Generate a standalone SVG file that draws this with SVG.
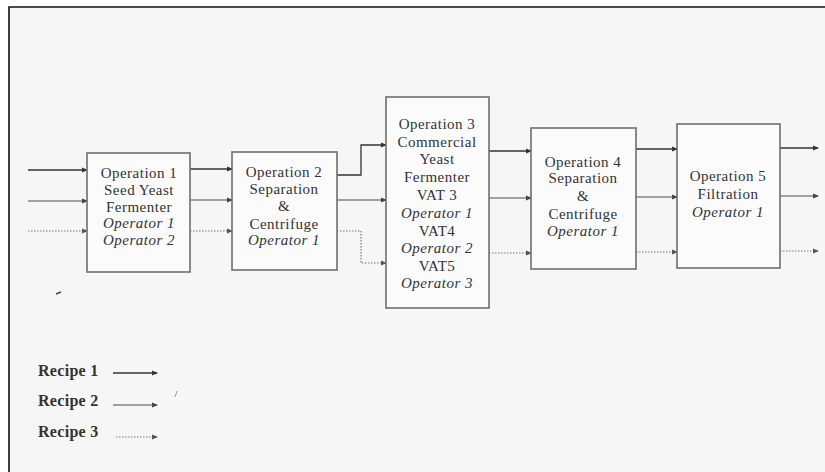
<svg xmlns="http://www.w3.org/2000/svg" width="825" height="472" viewBox="0 0 825 472">
<style>
.box{fill:#fbfbfb;stroke:#6e6e6e;stroke-width:1.6}
.t{font-family:"Liberation Serif","Times New Roman",serif;font-size:15px;fill:#333;text-anchor:middle;letter-spacing:0.5px}
.i{font-style:italic}
.r1{fill:none;stroke:#333;stroke-width:1.3;marker-end:url(#a1)}
.r2{fill:none;stroke:#4a4a4a;stroke-width:1;marker-end:url(#a2)}
.r3{fill:none;stroke:#777;stroke-width:1.2;stroke-dasharray:1.5 1.5;marker-end:url(#a3)}
.lg{font-family:"Liberation Serif","Times New Roman",serif;font-size:16px;font-weight:bold;fill:#333;letter-spacing:0.3px}
</style>
<defs>
<marker id="a1" markerWidth="6" markerHeight="6" refX="5" refY="3" orient="auto" markerUnits="userSpaceOnUse"><path d="M0,0.5 L6,3 L0,5.5 Z" fill="#333"/></marker>
<marker id="a2" markerWidth="6" markerHeight="6" refX="5" refY="3" orient="auto" markerUnits="userSpaceOnUse"><path d="M0,0.5 L6,3 L0,5.5 Z" fill="#444"/></marker>
<marker id="a3" markerWidth="6" markerHeight="6" refX="5" refY="3" orient="auto" markerUnits="userSpaceOnUse"><path d="M0,0.5 L6,3 L0,5.5 Z" fill="#555"/></marker>
</defs>
<rect x="0" y="0" width="825" height="472" fill="#ffffff"/>
<rect x="9" y="7" width="816" height="465" fill="#f6f6f6"/>
<path d="M9,472 L9,7 L825,7" fill="none" stroke="#111" stroke-width="1.6"/>

<g id="connectors">
<path class="r1" d="M28,170 L87,170"/>
<path class="r2" d="M28,201 L87,201"/>
<path class="r3" d="M28,231 L87,231"/>
<path class="r1" d="M190,169 L232,169"/>
<path class="r2" d="M190,200 L232,200"/>
<path class="r3" d="M190,231 L232,231"/>
<path class="r1" d="M337,175 L361,175 L361,145 L386,145"/>
<path class="r2" d="M337,200 L386,200"/>
<path class="r3" d="M337,231 L361,231 L361,263 L386,263"/>
<path class="r1" d="M489,151 L531,151"/>
<path class="r2" d="M489,198 L531,198"/>
<path class="r3" d="M489,253 L531,253"/>
<path class="r1" d="M636,149 L677,149"/>
<path class="r2" d="M636,197 L677,197"/>
<path class="r3" d="M636,252 L677,252"/>
<path class="r1" d="M780,148 L818,148"/>
<path class="r2" d="M780,196 L818,196"/>
<path class="r3" d="M780,251 L818,251"/>
</g>

<g id="op1">
<rect class="box" x="87" y="153" width="103" height="119"/>
<text class="t" x="139" y="178">Operation 1</text>
<text class="t" x="139" y="195">Seed Yeast</text>
<text class="t" x="139" y="212">Fermenter</text>
<text class="t i" x="139" y="228">Operator 1</text>
<text class="t i" x="139" y="245">Operator 2</text>
</g>

<g id="op2">
<rect class="box" x="232" y="152" width="105" height="118"/>
<text class="t" x="284" y="177">Operation 2</text>
<text class="t" x="284" y="194">Separation</text>
<text class="t" x="284" y="211">&amp;</text>
<text class="t" x="284" y="229">Centrifuge</text>
<text class="t i" x="284" y="245">Operator 1</text>
</g>

<g id="op3">
<rect class="box" x="386" y="97" width="103" height="211"/>
<text class="t" x="437" y="128.5">Operation 3</text>
<text class="t" x="437" y="146.5">Commercial</text>
<text class="t" x="437" y="164">Yeast</text>
<text class="t" x="437" y="182">Fermenter</text>
<text class="t" x="437" y="200">VAT 3</text>
<text class="t i" x="437" y="218">Operator 1</text>
<text class="t" x="437" y="236">VAT4</text>
<text class="t i" x="437" y="253">Operator 2</text>
<text class="t" x="437" y="271">VAT5</text>
<text class="t i" x="437" y="288">Operator 3</text>
</g>

<g id="op4">
<rect class="box" x="531" y="128" width="105" height="141"/>
<text class="t" x="583" y="166.5">Operation 4</text>
<text class="t" x="583" y="183">Separation</text>
<text class="t" x="583" y="201">&amp;</text>
<text class="t" x="583" y="218.5">Centrifuge</text>
<text class="t i" x="583" y="236">Operator 1</text>
</g>

<g id="op5">
<rect class="box" x="677" y="124" width="103" height="144"/>
<text class="t" x="728" y="180.5">Operation 5</text>
<text class="t" x="728" y="198.5">Filtration</text>
<text class="t i" x="728" y="216.5">Operator 1</text>
</g>

<g id="legend">
<text class="lg" x="38" y="376">Recipe 1</text>
<path class="r1" d="M113,373 L157,373"/>
<text class="lg" x="38" y="406">Recipe 2</text>
<path class="r2" d="M113,405 L157,405"/>
<text class="lg" x="38" y="437">Recipe 3</text>
<path class="r3" d="M116,437 L157,437"/>
</g>
<path d="M56,294 L61,292" stroke="#444" stroke-width="1.5"/>
<path d="M175,397 L177,391" stroke="#999" stroke-width="1"/>
</svg>
